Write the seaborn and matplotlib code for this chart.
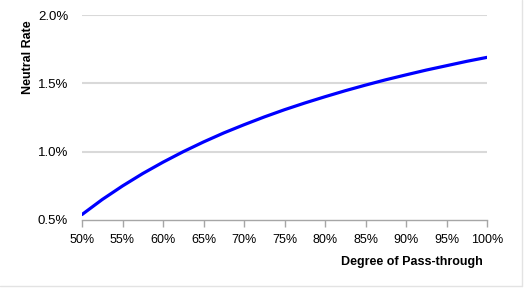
import matplotlib
matplotlib.use("Agg")
import matplotlib.pyplot as plt
import seaborn as sns
import pandas as pd
from matplotlib.ticker import FuncFormatter, FixedLocator
from matplotlib.lines import Line2D

# Data (percent)
pass_through = [50, 52.5, 55, 57.5, 60, 62.5, 65, 67.5, 70, 72.5, 75,
                77.5, 80, 82.5, 85, 87.5, 90, 92.5, 95, 97.5, 100]
neutral_rate = [0.540, 0.650, 0.749, 0.840, 0.923, 1.000, 1.071, 1.137, 1.197, 1.254, 1.307,
                1.356, 1.402, 1.446, 1.487, 1.526, 1.562, 1.597, 1.629, 1.661, 1.690]
x_ticks = [50, 55, 60, 65, 70, 75, 80, 85, 90, 95, 100]
y_ticks = [0.5, 1.0, 1.5, 2.0]

df = pd.DataFrame({"x": pass_through, "y": neutral_rate})

sns.set_theme(style="white")
plt.rcParams["font.family"] = ["Liberation Sans", "DejaVu Sans"]

W, H = 526, 288
fig = plt.figure(figsize=(W / 100, H / 100), dpi=100)
ax = fig.add_axes([82 / W, 1 - 220 / H, (487 - 82) / W, (220 - 15) / H])

for yv in y_ticks[1:]:
    ax.axhline(yv, color="#d9d9d9", lw=1.5, zorder=1)

sns.lineplot(data=df, x="x", y="y", ax=ax, color="#0000ff", lw=2.3, zorder=3)

ax.set_xlim(50, 100)
ax.set_ylim(0.5, 2.0)
ax.xaxis.set_major_locator(FixedLocator(x_ticks))
ax.yaxis.set_major_locator(FixedLocator(y_ticks))
ax.xaxis.set_major_formatter(FuncFormatter(lambda v, p: f"{v:.0f}%"))
ax.yaxis.set_major_formatter(FuncFormatter(lambda v, p: f"{v:.1f}%"))

for s in ["top", "right", "left"]:
    ax.spines[s].set_visible(False)
ax.spines["bottom"].set_color("#a6a6a6")
ax.spines["bottom"].set_linewidth(1.0)
ax.tick_params(axis="x", which="major", bottom=True, length=5, width=1,
               color="#a6a6a6", labelsize=9, labelcolor="black", pad=5)
ax.tick_params(axis="y", left=False, length=0, labelsize=9.5, labelcolor="black", pad=10)
ax.set_xlabel("")
ax.set_ylabel("")

fig.text(28 / W, 1 - 57 / H, "Neutral Rate", rotation=90, ha="center", va="center",
         fontsize=9, fontweight="bold", color="black")
fig.text(483 / W, 1 - 262 / H, "Degree of Pass-through", ha="right", va="center",
         fontsize=9, fontweight="bold", color="black")

# light chart frame (right and bottom edges visible)
fig.add_artist(Line2D([522 / W, 522 / W], [1 - 286 / H, 1.0], transform=fig.transFigure,
                      color="#e3e3e3", lw=1))
fig.add_artist(Line2D([0, 522 / W], [1 - 286 / H, 1 - 286 / H], transform=fig.transFigure,
                      color="#e3e3e3", lw=1))

fig.savefig("out.png", dpi=100)
